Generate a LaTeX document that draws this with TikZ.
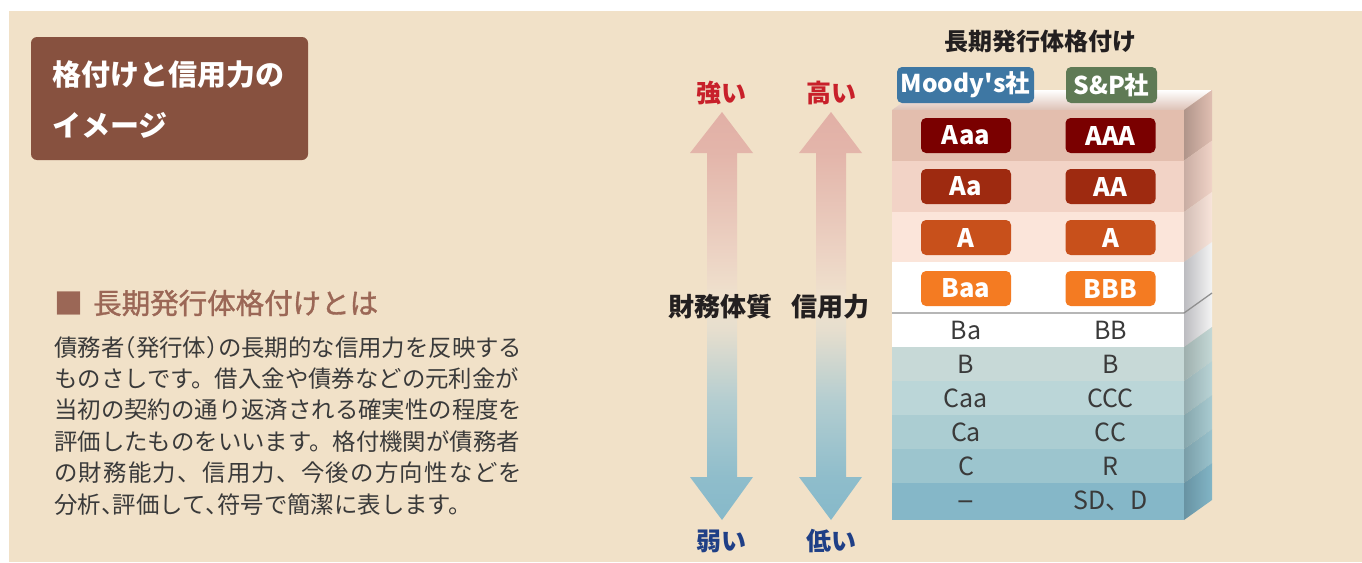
\documentclass[tikz,border=0pt]{standalone}
\usepackage{fontspec}
\newfontfamily\jp{Noto Sans CJK JP}
\definecolor{bg}{HTML}{F1E1C8}
\definecolor{titlebrown}{HTML}{87513F}
\definecolor{headbrown}{HTML}{9B6756}
\definecolor{bodytxt}{HTML}{3A3A3A}
\definecolor{strongred}{HTML}{C8202A}
\definecolor{weakblue}{HTML}{1F3F86}
\definecolor{darktxt}{HTML}{231F20}
\definecolor{moodysblue}{HTML}{3E77A3}
\definecolor{spgreen}{HTML}{5F7A55}
\definecolor{bAaa}{HTML}{7A0000}
\definecolor{bAa}{HTML}{9E2A10}
\definecolor{bA}{HTML}{C8501B}
\definecolor{bBaa}{HTML}{F47B22}
\definecolor{sepgray}{HTML}{8F8F8F}
\definecolor{topfront}{HTML}{DDC2B6}
\definecolor{aBot}{HTML}{86B9CA}
\definecolor{aB1}{HTML}{8FBDCB}
\definecolor{aB2}{HTML}{B3CDD0}
\definecolor{aMid1}{HTML}{E6DECE}
\definecolor{aMid}{HTML}{EFE2CE}
\definecolor{aT1}{HTML}{ECD2C3}
\definecolor{aT2}{HTML}{E3B5AA}
\definecolor{aTop}{HTML}{E2B0A6}
\pgfdeclareverticalshading{arrshade}{100bp}{%
color(0bp)=(aBot); color(25bp)=(aBot); color(30.25bp)=(aB1); color(39.5bp)=(aB2);
color(48.3bp)=(aMid1); color(52bp)=(aMid); color(58bp)=(aT1); color(70bp)=(aT2);
color(75bp)=(aTop); color(100bp)=(aTop)}
\begin{document}
\begin{tikzpicture}[x=1pt,y=-1pt,
  every node/.style={inner sep=0pt, font=\jp},
  titletxt/.style={anchor=west, text=white, font=\jp\fontsize{29}{29}\selectfont\bfseries},
  bodyline/.style={anchor=west, text=bodytxt, font=\jp\fontsize{23.4}{23.4}\selectfont},
  arrowlabel/.style={font=\jp\fontsize{25}{25}\selectfont\bfseries},
  axislabel/.style={text=darktxt, font=\jp\fontsize{26}{26}\selectfont\bfseries},
  agency/.style={rounded corners=5pt, minimum height=36pt, text=white, font=\jp\fontsize{24.5}{24.5}\selectfont\bfseries},
  ratebadge/.style={rounded corners=5pt, minimum width=90pt, minimum height=35pt, text=white, font=\jp\fontsize{25.5}{25.5}\selectfont\bfseries},
  ratetxt/.style={text=bodytxt, font=\jp\fontsize{25}{25}\selectfont},
  arrowshape/.style={shading=arrshade}
]
\useasboundingbox (0,0) rectangle (1362,562);
\fill[bg] (9,11) rectangle (1362,562);

% title box
\fill[titlebrown, rounded corners=6pt] (31,37) rectangle (308,160);
\node[titletxt] (title1) at (52,75) {格付けと信用力の};
\node[titletxt] (title2) at (52,125) {イメージ};

% heading
\node[anchor=west, text=headbrown, font=\jp\fontsize{29}{29}\selectfont] (hsq) at (54,303) {■};
\node[anchor=west, text=headbrown, font=\jp\fontsize{28.5}{28.5}\selectfont\addfontfeature{FakeBold=1.2}] (head) at (93,303) {長期発行体格付けとは};

% body
\node[bodyline] (l1) at (54,348) {債務者{\addfontfeature{RawFeature=+halt}（}発行体{\addfontfeature{RawFeature=+halt}）}の長期的な信用力を反映する};
\node[bodyline] (l2) at (54,379) {ものさしです。借入金や債券などの元利金が};
\node[bodyline] (l3) at (54,410) {当初の契約の通り返済される確実性の程度を};
\node[bodyline] (l4) at (54,442) {評価したものをいいます。格付機関が債務者};
\node[bodyline] (l5) at (54,473) {\makebox[468pt][s]{の\hfil 財\hfil 務\hfil 能\hfil 力\hfil 、\hfil 信\hfil 用\hfil 力\hfil 、\hfil 今\hfil 後\hfil の\hfil 方\hfil 向\hfil 性\hfil な\hfil ど\hfil を}};
\node[bodyline] (l6) at (54,505) {分析{\addfontfeature{RawFeature=+halt}、}評価して{\addfontfeature{RawFeature=+halt}、}符号で簡潔に表します。};

% arrows
\shade[arrowshape] (722,112) -- (753,153) -- (737,153) -- (737,477) -- (753,477) -- (722,520)
  -- (690,477) -- (707,477) -- (707,153) -- (690,153) -- cycle;
\shade[arrowshape] (831,112) -- (862,153) -- (846,153) -- (846,477) -- (862,477) -- (831,520)
  -- (799,477) -- (816,477) -- (816,153) -- (799,153) -- cycle;
\node[arrowlabel, text=strongred] (strong) at (721,93) {強い};
\node[arrowlabel, text=strongred] (high) at (831,93) {高い};
\node[arrowlabel, text=weakblue] (weak) at (721,541) {弱い};
\node[arrowlabel, text=weakblue] (low) at (831,541) {低い};
\node[axislabel] (zaimu) at (720,307) {財務体質};
\node[axislabel] (shinyo) at (830,307) {信用力};

% table top face
\shade[top color=white, bottom color=topfront] (892,110) -- (1184,110) -- (1212,90) -- (920,90) -- cycle;

% rows
\foreach \yt/\yb/\cf/\cl/\cr in {110/160.7/E3BEAE/B0958A/E0BFB2, 160.7/212/F2D3C6/C9ADA3/F0D3C7,
  212/262/FBE5DA/D2BDB5/F8E4DA, 262/313/FFFFFF/BCBCC0/F4F4F4, 313/347/FFFFFF/BCBCC0/F4F4F4,
  347/381/C7D9D7/9FB0AE/C4D8D6, 381/415/BBD6D8/95ADB0/B9D4D6, 415/449/ABCDD2/86A6AC/A9CBD1,
  449/483/9CC5CE/7A9EA8/9AC3CD, 483/520/85B7C8/6893A3/82B5C6}{
  \definecolor{rf}{HTML}{\cf}\definecolor{rl}{HTML}{\cl}\definecolor{rr}{HTML}{\cr}
  \fill[rf] (892,\yt) rectangle (1184,\yb);
  \shade[left color=rl, right color=rr] (1184,\yt) -- (1212,\yt-20) -- (1212,\yb-20) -- (1184,\yb) -- cycle;
}
\draw[sepgray, line width=1.3pt] (892,313) -- (1184,313) -- (1212,293);

% table header
\node[text=darktxt, font=\jp\fontsize{24}{24}\selectfont\bfseries] (ttitle) at (1040,41) {長期発行体格付け};
\node[agency, fill=moodysblue, minimum width=137pt] (moodys) at (965.5,85) {Moody\textquotesingle s社};
\node[agency, fill=spgreen, minimum width=91pt] (sp) at (1111.5,85) {S\&P社};

% badges
\node[ratebadge, fill=bAaa] (m1) at (966,135.5) {Aaa};
\node[ratebadge, fill=bAaa] (s1) at (1110.5,135.5) {AAA};
\node[ratebadge, fill=bAa] (m2) at (966,186.5) {Aa};
\node[ratebadge, fill=bAa] (s2) at (1110.5,186.5) {AA};
\node[ratebadge, fill=bA] (m3) at (966,237.5) {A};
\node[ratebadge, fill=bA] (s3) at (1110.5,237.5) {A};
\node[ratebadge, fill=bBaa] (m4) at (966,288.5) {Baa};
\node[ratebadge, fill=bBaa] (s4) at (1110.5,288.5) {BBB};

% plain ratings
\node[ratetxt] (m5) at (966,330) {Ba};
\node[ratetxt] (s5) at (1110.5,330) {BB};
\node[ratetxt] (m6) at (966,364) {B};
\node[ratetxt] (s6) at (1110.5,364) {B};
\node[ratetxt] (m7) at (966,398) {Caa};
\node[ratetxt] (s7) at (1110.5,398) {CCC};
\node[ratetxt] (m8) at (966,432) {Ca};
\node[ratetxt] (s8) at (1110.5,432) {CC};
\node[ratetxt] (m9) at (966,466) {C};
\node[ratetxt] (s9) at (1110.5,466) {R};
\node[ratetxt, font=\jp\fontsize{31}{31}\selectfont] (m10) at (966,506) {–};
\node[ratetxt] (s10) at (1110.5,501) {SD、D};
\end{tikzpicture}
\end{document}
